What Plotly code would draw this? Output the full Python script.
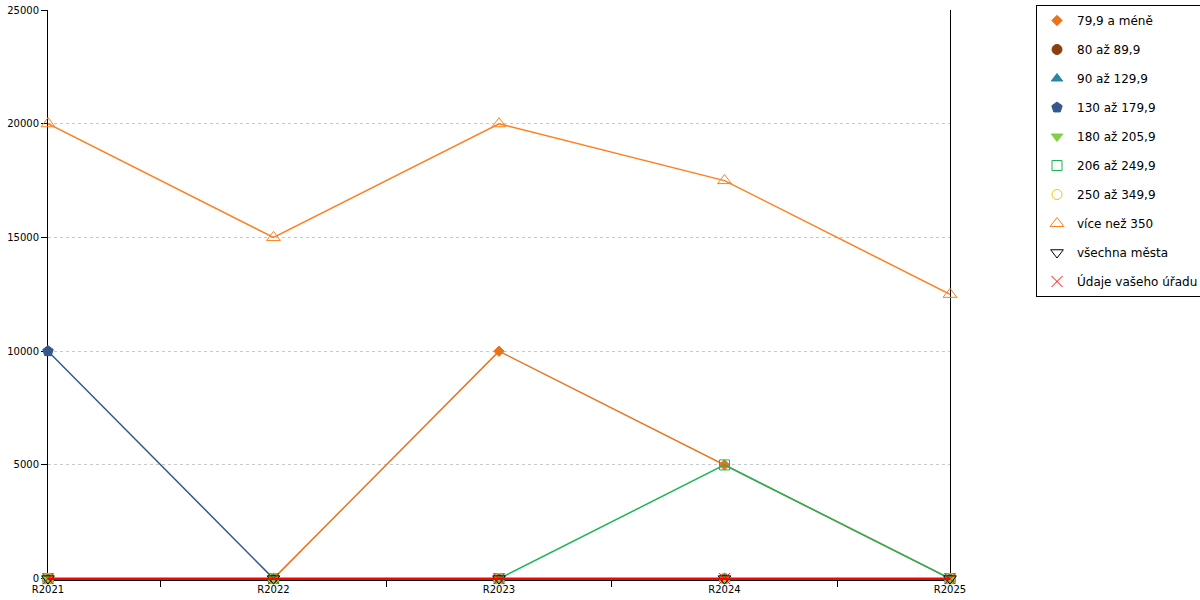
import plotly.graph_objects as go

years = ["R2021", "R2022", "R2023", "R2024", "R2025"]

s_79 = [0, 0, 10000, 5000, 0]
s_80 = [0, 0, 0, 0, 0]
s_90 = [0, 0, 0, 0, 0]
s_130 = [10000, 0, 0, 0, 0]
s_180 = [0, 0, 0, 0, 0]
s_206 = [0, 0, 0, 5000, 0]
s_250 = [0, 0, 0, 0, 0]
s_350 = [20000, 15000, 20000, 17500, 12500]
s_all = [0, 0, 0, 0, 0]
s_office = [0, 0, 0, 0, 0]

series = [
    ("79,9 a méně", s_79, "#E8731C", "diamond", 8),
    ("80 až 89,9", s_80, "#8B3E0F", "circle", 10),
    ("90 až 129,9", s_90, "#2A87A0", "triangle-up", 10),
    ("130 až 179,9", s_130, "#34578C", "pentagon", 11),
    ("180 až 205,9", s_180, "#7ED045", "triangle-down", 10),
    ("206 až 249,9", s_206, "#1DB45A", "square-open", 10),
    ("250 až 349,9", s_250, "#FFC000", "circle-open", 10),
    ("více než 350", s_350, "#FF7F1E", "triangle-up-open", 12),
    ("všechna města", s_all, "#000000", "triangle-down-open", 11),
    ("Údaje vašeho úřadu", s_office, "#FF0000", "x-thin-open", 11),
]

fig = go.Figure()
for i, (name, vals, col, sym, sz) in enumerate(series):
    fig.add_trace(go.Scatter(
        x=years, y=vals, name=name, mode="lines+markers",
        line=dict(color=col, width=2.5 if name.startswith("Údaje") else 1.5),
        marker=dict(symbol=sym, size=sz, color=col, line=dict(color=col, width=1)),
        showlegend=False, cliponaxis=False,
    ))
# legend entries (marker only)
for i, (name, vals, col, sym, sz) in enumerate(series):
    fig.add_trace(go.Scatter(
        x=[years[0]], y=[None], name=name, mode="markers",
        marker=dict(symbol=sym, size=sz, color=col, line=dict(color=col, width=1)),
        legendgroup="g%d" % i, showlegend=True,
    ))

fig.update_layout(
    width=1200, height=600,
    margin=dict(l=48, r=250, t=10, b=20, autoexpand=False),
    plot_bgcolor="white", paper_bgcolor="white",
    font=dict(family="DejaVu Sans", size=10, color="#000000"),
    legend=dict(
        x=(1036 - 48) / 902, y=1 + 5 / 570, xanchor="left", yanchor="top",
        bordercolor="#000000", borderwidth=1, bgcolor="white",
        tracegroupgap=10, font=dict(size=12), itemwidth=30,
    ),
    xaxis=dict(
        type="category", range=[0, 4], tickson="boundaries",
        ticks="outside", ticklen=6, tickcolor="#000000",
        showline=True, linecolor="#000000", linewidth=1,
        showgrid=False, zeroline=False, layer="below traces",
        tickfont=dict(size=10), automargin=False,
    ),
    yaxis=dict(
        range=[-60, 25000], dtick=5000, tick0=0, tickformat="d",
        ticks="outside", ticklen=6, tickcolor="#000000",
        showline=True, linecolor="#000000", linewidth=1, mirror=True,
        showgrid=True, gridcolor="#C8C8C8", griddash="dot", gridwidth=1,
        zeroline=False, layer="below traces",
        tickfont=dict(size=10), automargin=False,
    ),
)

fig.write_html("out.html", config={"displayModeBar": False},
               post_script="document.body.style.margin='0';")
